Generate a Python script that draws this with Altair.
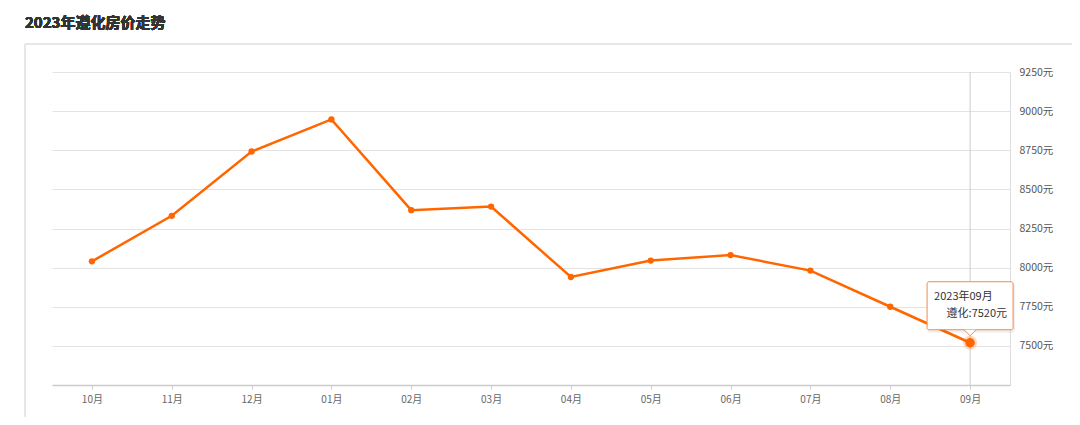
import altair as alt
import pandas as pd

months = ["10月", "11月", "12月", "01月", "02月", "03月", "04月", "05月", "06月", "07月", "08月", "09月"]
prices = [8040, 8331, 8742, 8947, 8367, 8390, 7940, 8045, 8080, 7981, 7750, 7520]
y_ticks = [7500, 7750, 8000, 8250, 8500, 8750, 9000, 9250]
title_text = "2023年遵化房价走势"
tip_date = "2023年09月"
tip_label = "遵化:7520元"

df = pd.DataFrame({"month": months, "price": prices})
last = df.tail(1).copy()
last["date"] = tip_date
last["label"] = tip_label

ORANGE = "#ff6600"
FONT = "Noto Sans CJK SC"

xs = alt.X("month:O", sort=months,
           scale=alt.Scale(type="point", padding=0.5),
           axis=alt.Axis(title=None, labelAngle=0, labelColor="#666", labelFontSize=10,
                         labelFont=FONT, domainColor="#cccccc", domainWidth=1.5,
                         tickColor="#cccccc", tickSize=4, labelPadding=5, grid=False))
ys = alt.Y("price:Q", scale=alt.Scale(domain=[7250, 9250], nice=False, zero=False),
           axis=alt.Axis(title=None, orient="right", values=y_ticks,
                         labelExpr="datum.value + '元'", labelColor="#555",
                         labelFontSize=10.5, labelFont=FONT, domainColor="#dddddd",
                         ticks=False, labelPadding=9, gridColor="#e3e3e3", grid=True))

base = alt.Chart(df)

frame = base.mark_rect(fill="transparent", stroke="#e6e6e6", strokeWidth=1).encode(
    x=alt.value(-27), x2=alt.value(1100), y=alt.value(-28), y2=alt.value(400))

title = base.mark_text(text=title_text, align="left", baseline="middle", fontSize=15,
                       fontWeight="bold", color="#333", font=FONT).encode(
    x=alt.value(-27), y=alt.value(-49))

crosshair = alt.Chart(last).mark_rule(color="#cccccc", strokeWidth=1).encode(
    x=xs, y=alt.value(0), y2=alt.value(313))

line = base.mark_line(color=ORANGE, strokeWidth=2.5).encode(x=xs, y=ys)
pts = base.mark_circle(color=ORANGE, size=40, opacity=1).encode(x=xs, y=ys)

halo = alt.Chart(last).mark_circle(color=ORANGE, size=200, opacity=0.25).encode(x=xs, y=ys)
big = alt.Chart(last).mark_circle(color=ORANGE, size=90, opacity=1).encode(x=xs, y=ys)

shadow = alt.Chart(last).mark_rect(width=88, height=50, yOffset=-35, xOffset=1, fill="#000000",
                                   opacity=0.06, cornerRadius=3).encode(x=xs, y=ys)
box = alt.Chart(last).mark_rect(width=86, height=48, yOffset=-37, fill="white",
                                stroke="#f08a4b", strokeWidth=1, cornerRadius=2).encode(x=xs, y=ys)
pointer = alt.Chart(last).mark_point(shape="M -1 0 L 0 1 L 1 0", size=144, filled=False,
                                     fill="white", fillOpacity=1, stroke="#f08a4b",
                                     strokeWidth=1, opacity=1, yOffset=-13).encode(x=xs, y=ys)
t1 = alt.Chart(last).mark_text(align="left", baseline="middle", fontSize=11, color="#333",
                               font=FONT, xOffset=-36, yOffset=-46).encode(x=xs, y=ys, text="date:N")
t2 = alt.Chart(last).mark_text(align="right", baseline="middle", fontSize=11, color="#333",
                               font=FONT, xOffset=37, yOffset=-29).encode(x=xs, y=ys, text="label:N")

chart = alt.layer(frame, title, crosshair, line, pts, halo, big, shadow, box, pointer, t1, t2).properties(
    width=958, height=313,
    background="white",
    padding={"left": 44, "top": 64, "right": 62, "bottom": 32},
    autosize=alt.AutoSizeParams(type="none"),
).configure_view(stroke="transparent", strokeWidth=0)

chart.save("out.html", embed_options={"renderer": "svg", "actions": False})
